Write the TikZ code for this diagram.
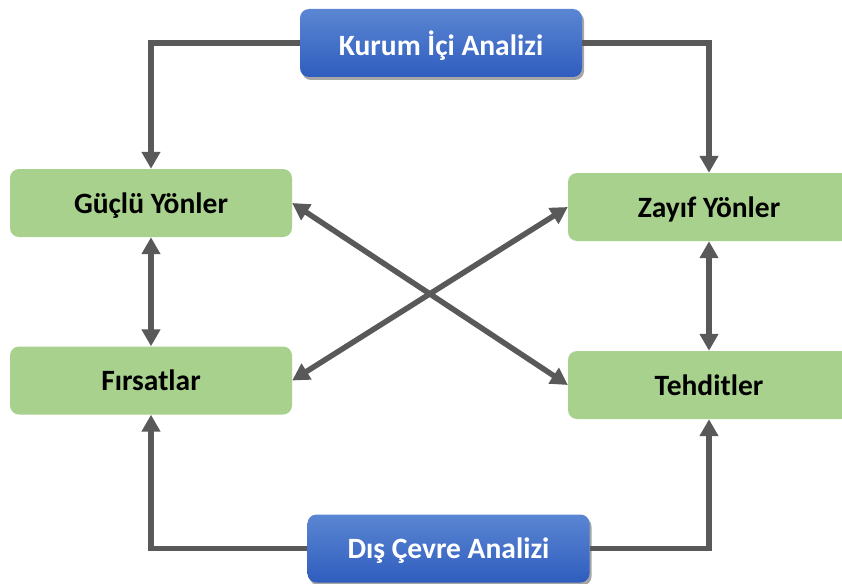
\documentclass[tikz,border=0pt]{standalone}
\usepackage{fontspec}
\setmainfont{Carlito}
\usetikzlibrary{arrows.meta,shadows}
\definecolor{conngray}{HTML}{595959}
\definecolor{boxgreen}{HTML}{A9D18E}
\definecolor{bluetop}{HTML}{5B86D3}
\definecolor{bluebot}{HTML}{2F5DBE}
\tikzset{
  greenbox/.style={rectangle, rounded corners=9pt, fill=boxgreen, draw=none,
    minimum width=282pt, minimum height=68pt, inner sep=0pt, text depth=0pt,
    font=\fontsize{29.5}{34}\selectfont\bfseries, text=black},
  bluebox/.style={rectangle, rounded corners=9pt, top color=bluetop, bottom color=bluebot, draw=none,
    minimum width=282pt, minimum height=68pt, inner sep=0pt, text depth=0pt,
    font=\fontsize{29.5}{34}\selectfont\bfseries, text=white,
    drop shadow={shadow xshift=2pt, shadow yshift=-3pt, opacity=0.35, fill=black}},
  conn/.style={draw=conngray, line width=5.5pt, -{Triangle[length=17pt,width=18pt]}},
  dconn/.style={draw=conngray, line width=5.5pt, {Triangle[length=17pt,width=18pt]}-{Triangle[length=17pt,width=18pt]}}
}
\begin{document}
\begin{tikzpicture}[x=1pt,y=-1pt]
\useasboundingbox (0,0) rectangle (842,583);
\clip (0,0) rectangle (842,583);
\fill[white] (0,0) rectangle (842,583);
\node[bluebox] (k) at (441,43) {Kurum İçi Analizi};
\node[bluebox] (d) at (448.5,548.5) {Dış Çevre Analizi};
\node[greenbox] (g) at (151,203) {Güçlü Yönler};
\node[greenbox] (f) at (151,380.5) {Fırsatlar};
\node[greenbox] (z) at (709,207) {Zayıf Yönler};
\node[greenbox] (t) at (709,385) {Tehditler};
\draw[conn] (k.west) -| (g.north);
\draw[conn] (k.east) -| (z.north);
\draw[conn] (d.west) -| (f.south);
\draw[conn] (d.east) -| (t.south);
\draw[dconn] (g.south) -- (f.north);
\draw[dconn] (z.south) -- (t.north);
\draw[dconn] (g.east) -- (t.west);
\draw[dconn] (f.east) -- (z.west);
\end{tikzpicture}
\end{document}
